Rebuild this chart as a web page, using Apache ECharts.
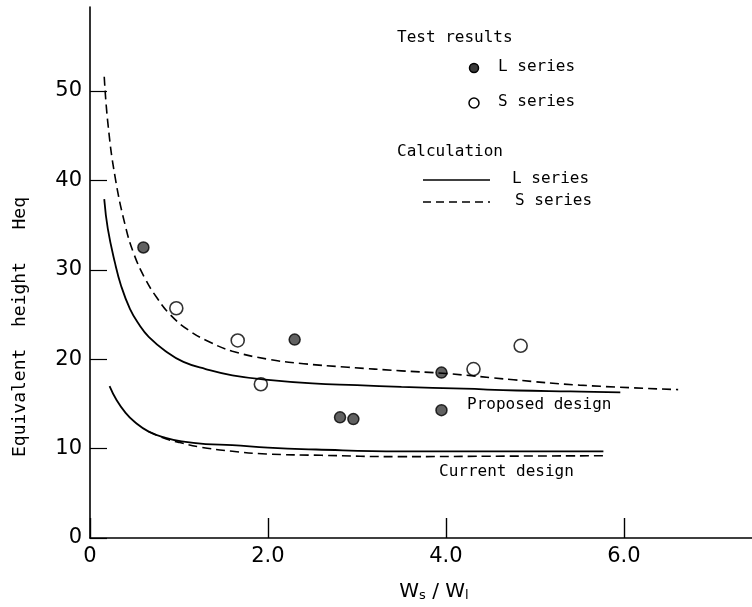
<!DOCTYPE html>
<html><head><meta charset="utf-8">
<script src="https://cdn.jsdelivr.net/npm/echarts@6/dist/echarts.min.js"></script>
<style>html,body{margin:0;padding:0;background:#fff}#c{width:752px;height:607px}</style>
</head><body><div id="c"></div>
<script>
// Tick labels
const xTicks = [0, 2, 4, 6];
const yTicks = [0, 10, 20, 30, 40, 50];

// Test results
const testLX = [0.60, 2.30, 2.81, 2.96, 3.95, 3.95];
const testLY = [32.5, 22.2, 13.5, 13.3, 18.5, 14.3];
const testSX = [0.97, 1.66, 1.92, 4.31, 4.84];
const testSY = [25.7, 22.1, 17.2, 18.9, 21.5];

// Calculation, proposed design
const propLX = [0.16, 0.20, 0.28, 0.35, 0.45, 0.55, 0.66, 0.85, 1.05, 1.30, 1.60, 2.00, 2.50, 3.00, 3.50, 4.20, 4.80, 5.40, 5.96];
const propLY = [37.9, 34.6, 30.8, 28.2, 25.6, 23.9, 22.5, 20.9, 19.7, 18.9, 18.2, 17.7, 17.3, 17.1, 16.9, 16.7, 16.5, 16.4, 16.3];
const propSX = [0.16, 0.20, 0.28, 0.40, 0.50, 0.62, 0.75, 0.90, 1.10, 1.35, 1.60, 2.00, 2.40, 2.90, 3.50, 4.00, 4.76, 5.50, 6.61];
const propSY = [51.6, 46.5, 40.5, 34.8, 31.6, 29.0, 26.9, 25.0, 23.3, 21.9, 20.9, 20.0, 19.5, 19.1, 18.7, 18.4, 17.7, 17.1, 16.6];

// Calculation, current design
const curLX = [0.22, 0.30, 0.40, 0.50, 0.66, 0.85, 1.03, 1.30, 1.60, 2.00, 2.54, 3.48, 4.50, 5.77];
const curLY = [17.0, 15.4, 14.0, 13.0, 11.9, 11.2, 10.8, 10.5, 10.4, 10.1, 9.9, 9.7, 9.7, 9.7];
const curSX = [0.66, 0.85, 1.00, 1.22, 1.60, 1.98, 2.60, 3.48, 4.50, 5.77];
const curSY = [11.9, 11.1, 10.7, 10.2, 9.7, 9.4, 9.25, 9.1, 9.15, 9.2];

const pairs = (xs, ys) => xs.map((x, i) => [x, ys[i]]);
const mono = '"DejaVu Sans Mono", monospace';
const sans = '"DejaVu Sans", sans-serif';

const chart = echarts.init(document.getElementById('c'), null, {renderer: 'canvas'});
const lineBase = {type: 'line', showSymbol: false, smooth: 0.45, silent: true};
chart.setOption({
  animation: false,
  backgroundColor: '#fff',
  grid: {left: 90, right: 0, top: 7, bottom: 69},
  xAxis: {
    type: 'value', min: 0, max: 7.44,
    axisLine: {show: true, lineStyle: {color: '#000', width: 1.6}},
    axisTick: {show: true, inside: true, length: 20, customValues: xTicks, lineStyle: {color: '#000', width: 1.4}},
    axisLabel: {customValues: xTicks, margin: 8, color: '#000', fontSize: 21, fontFamily: sans,
      formatter: v => v === 0 ? '0' : v.toFixed(1)},
    splitLine: {show: false}
  },
  yAxis: {
    type: 'value', min: 0, max: 59.4,
    axisLine: {show: true, lineStyle: {color: '#000', width: 1.6}},
    axisTick: {show: true, inside: true, length: 17, customValues: yTicks, lineStyle: {color: '#000', width: 1.2}},
    axisLabel: {customValues: yTicks, margin: 8, color: '#000', fontSize: 21, fontFamily: sans},
    splitLine: {show: false}
  },
  series: [
    Object.assign({}, lineBase, {name: 'L calc proposed', data: pairs(propLX, propLY), lineStyle: {color: '#000', width: 1.8, type: 'solid'}}),
    Object.assign({}, lineBase, {name: 'S calc proposed', data: pairs(propSX, propSY), lineStyle: {color: '#000', width: 1.6, type: [9, 5]}}),
    Object.assign({}, lineBase, {name: 'L calc current', data: pairs(curLX, curLY), lineStyle: {color: '#000', width: 1.8, type: 'solid'}}),
    Object.assign({}, lineBase, {name: 'S calc current', data: pairs(curSX, curSY), lineStyle: {color: '#000', width: 1.6, type: [9, 5]}}),
    {type: 'scatter', name: 'L series', data: pairs(testLX, testLY), symbol: 'circle', symbolSize: 11,
      itemStyle: {color: '#3a3a3a', borderColor: '#000', borderWidth: 1.5}},
    {type: 'scatter', name: 'S series', data: pairs(testSX, testSY), symbol: 'circle', symbolSize: 13,
      itemStyle: {color: '#fff', borderColor: '#000', borderWidth: 1.6}}
  ],
  graphic: [
    // Legend
    {type: 'text', left: 397, top: 30, style: {text: 'Test results', font: '16px ' + mono, fill: '#000'}},
    {type: 'circle', shape: {cx: 474, cy: 68, r: 4.5}, style: {fill: '#3a3a3a', stroke: '#000', lineWidth: 1.5}},
    {type: 'text', left: 498, top: 59, style: {text: 'L series', font: '16px ' + mono, fill: '#000'}},
    {type: 'circle', shape: {cx: 474, cy: 103, r: 5}, style: {fill: '#fff', stroke: '#000', lineWidth: 1.5}},
    {type: 'text', left: 498, top: 94, style: {text: 'S series', font: '16px ' + mono, fill: '#000'}},
    {type: 'text', left: 397, top: 144, style: {text: 'Calculation', font: '16px ' + mono, fill: '#000'}},
    {type: 'line', shape: {x1: 423, y1: 180, x2: 490, y2: 180}, style: {stroke: '#000', lineWidth: 1.6}},
    {type: 'text', left: 512, top: 171, style: {text: 'L series', font: '16px ' + mono, fill: '#000'}},
    {type: 'line', shape: {x1: 423, y1: 202, x2: 490, y2: 202}, style: {stroke: '#000', lineWidth: 1.4, lineDash: [8, 5]}},
    {type: 'text', left: 515, top: 193, style: {text: 'S series', font: '16px ' + mono, fill: '#000'}},
    // Annotations
    {type: 'text', left: 467, top: 397, style: {text: 'Proposed design', font: '16px ' + mono, fill: '#000'}},
    {type: 'text', left: 439, top: 464, style: {text: 'Current design', font: '16px ' + mono, fill: '#000'}},
    // Axis names
    {type: 'text', x: 20, y: 327, rotation: Math.PI / 2,
      style: {text: 'Equivalent  height   Heq', font: '18px ' + mono, fill: '#000', align: 'center', verticalAlign: 'middle'}},
    {type: 'text', x: 434, y: 592,
      style: {text: 'W{s|s} / W{s|l}', font: '20px ' + sans, fill: '#000', align: 'center', verticalAlign: 'middle',
        rich: {s: {fontSize: 13, fontFamily: sans, verticalAlign: 'bottom', padding: [8, 0, 0, 0]}}}}
  ]
});
</script></body></html>
